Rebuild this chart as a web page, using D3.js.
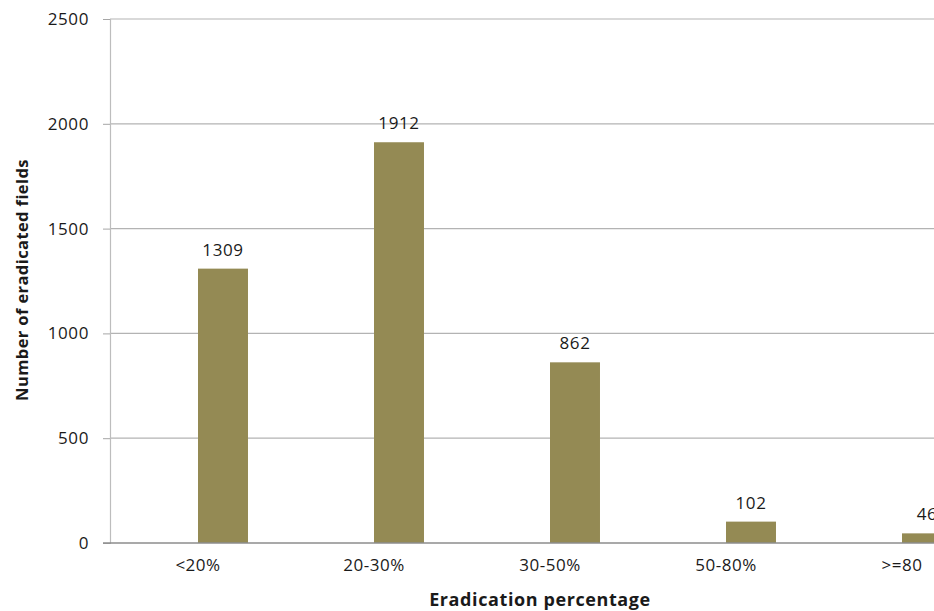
<!DOCTYPE html>
<html><head><meta charset="utf-8">
<script src="https://cdn.jsdelivr.net/npm/d3@7"></script>
<style>
html,body{margin:0;padding:0;background:#fff;overflow:hidden;}
text{font-family:"Open Sans",sans-serif;fill:#1a1a1a;}
</style></head>
<body>
<svg id="c" width="934" height="611"></svg>
<script>
const categories = ["<20%","20-30%","30-50%","50-80%",">=80"];
const values = [1309,1912,862,102,46];
const yTicks = [0,500,1000,1500,2000,2500];

const svg = d3.select("#c");
const x0 = 110, xEnd = 990, yTop = 19, yBot = 543;
const x = d3.scaleBand().domain(categories).range([x0, xEnd]).padding(0);
const y = d3.scaleLinear().domain([0,2500]).range([yBot, yTop]);
const barW = x.bandwidth()*0.284;

// gridlines
svg.append("g").selectAll("line").data(yTicks.filter(d=>d>0)).join("line")
  .attr("x1", x0).attr("x2", 934).attr("y1", d=>y(d)).attr("y2", d=>y(d))
  .attr("stroke","#b3b3b3").attr("stroke-width",1.2);

// y axis
const yAxis = d3.axisLeft(y).tickValues(yTicks).tickSize(7).tickPadding(14).tickFormat(d3.format("d"));
const ga = svg.append("g").attr("transform",`translate(${x0},0)`).call(yAxis);
ga.select(".domain").attr("stroke","#bdbdbd").attr("stroke-width",1.2);
ga.selectAll(".tick line").attr("stroke","#a6a6a6");
ga.selectAll(".tick text").style("font-size","17px").attr("letter-spacing","0.6px").attr("fill","#1a1a1a");

// bars
svg.append("g").selectAll("rect").data(values).join("rect")
  .attr("x",(d,i)=>x(categories[i])+x.bandwidth()/2)
  .attr("width",barW)
  .attr("y",d=>y(d)).attr("height",d=>yBot-y(d))
  .attr("fill","#948a54");

// x axis
const xAxis = d3.axisBottom(x).tickSize(0).tickPadding(16);
const gx = svg.append("g").attr("transform",`translate(0,${yBot})`).call(xAxis);
gx.select(".domain").remove();
svg.append("line").attr("x1",x0-7).attr("x2",934).attr("y1",yBot).attr("y2",yBot)
  .attr("stroke","#8c8c8c").attr("stroke-width",1.3);
gx.selectAll(".tick text").style("font-size","17px").attr("letter-spacing","0.5px").attr("fill","#1a1a1a");

// data labels
svg.append("g").selectAll("text").data(values).join("text")
  .attr("x",(d,i)=>x(categories[i])+x.bandwidth()/2+barW/2)
  .attr("y",d=>y(d)-13)
  .attr("text-anchor","middle")
  .style("font-size","17px").attr("letter-spacing","0.6px")
  .text(d=>d);

// axis titles
svg.append("text").attr("transform","translate(28,280) rotate(-90)")
  .attr("text-anchor","middle").style("font-size","16.5px").style("font-weight","bold")
  .attr("letter-spacing","0.4px")
  .text("Number of eradicated fields");
svg.append("text").attr("x",540).attr("y",606).attr("text-anchor","middle")
  .style("font-size","18px").style("font-weight","bold").attr("letter-spacing","0.6px")
  .text("Eradication percentage");
</script>
</body></html>
